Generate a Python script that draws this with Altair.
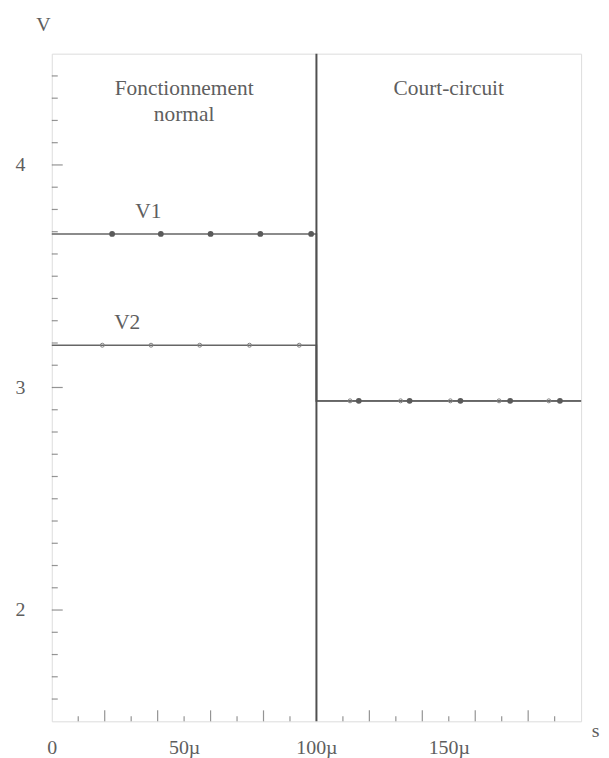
import altair as alt
import pandas as pd

# ---- data ----
x_break = 100          # µs, onset of short-circuit
x_end = 200
v1_normal = 3.69
v2_normal = 3.19
v_short = 2.94

v1_marker_x = [22.8, 41.2, 60.0, 78.8, 98.0, 116.0, 135.2, 154.4, 173.2, 192.0]
v2_marker_x = [19.1, 37.5, 55.9, 74.7, 93.5, 112.7, 131.8, 150.6, 169.0, 187.8]

x_label_values = [0, 50, 100, 150]
y_label_values = [2, 3, 4]
x_minor_ticks = [10, 30, 50, 70, 90, 110, 130, 150, 170, 190]
x_major_ticks = [20, 40, 60, 80, 120, 140, 160, 180]
y_minor_ticks = [round(1.6 + 0.1 * i, 1) for i in range(29) if round(1.6 + 0.1 * i, 1) not in (2.0, 3.0, 4.0)]
y_major_ticks = [2, 3, 4]

ann_text = ["Fonctionnement", "normal", "Court-circuit", "V1", "V2"]
ann_x = [50, 50, 150, 36.5, 28.5]
ann_y = [4.34, 4.225, 4.34, 3.79, 3.29]

# ---- tables ----
def level(t, xb, vn, vs):
    return vn if t < xb else vs

lines = pd.DataFrame({
    "series": ["V1"] * 4 + ["V2"] * 4,
    "order": [0, 1, 2, 3] * 2,
    "t": [0, x_break, x_break, x_end] * 2,
    "v": [v1_normal, v1_normal, v_short, v_short, v2_normal, v2_normal, v_short, v_short],
})
m1 = pd.DataFrame({"t": v1_marker_x, "v": [level(t, x_break, v1_normal, v_short) for t in v1_marker_x]})
m2 = pd.DataFrame({"t": v2_marker_x, "v": [level(t, x_break, v2_normal, v_short) for t in v2_marker_x]})
ann = pd.DataFrame({"text": ann_text, "t": ann_x, "v": ann_y})

FONT = "Liberation Serif"
GREY = "#5e5e5e"
LINE = "#666666"

xscale = alt.Scale(domain=[0, x_end], nice=False, zero=False)
yscale = alt.Scale(domain=[1.5, 4.5], nice=False, zero=False)

xaxis = alt.Axis(
    values=x_label_values,
    labelExpr="datum.value == 0 ? '0' : datum.value + 'µ'",
    ticks=False, tickSize=0, domain=False, grid=False,
    labelFont=FONT, labelFontSize=20, labelColor=GREY, labelPadding=16,
    labelFlush=False,
    title="s", titleFont=FONT, titleFontSize=20, titleFontWeight="normal",
    titleColor=GREY, titleX=546, titleY=9, titleAlign="center",
    titleBaseline="middle",
)
yaxis = alt.Axis(
    values=y_label_values, format="d",
    ticks=False, tickSize=0, domain=False, grid=False,
    labelFont=FONT, labelFontSize=20, labelColor=GREY, labelPadding=27,
    title="V", titleFont=FONT, titleFontSize=20, titleFontWeight="normal",
    titleColor=GREY, titleAngle=0, titleX=-9, titleY=-29,
    titleAlign="center", titleBaseline="middle",
)

base_lines = alt.Chart(lines).mark_line(color=LINE, strokeWidth=1.6).encode(
    x=alt.X("t:Q", scale=xscale, axis=xaxis),
    y=alt.Y("v:Q", scale=yscale, axis=yaxis),
    detail="series:N",
    order="order:Q",
)

divider = alt.Chart(pd.DataFrame({"t": [x_break]})).mark_rule(
    color="#505050", strokeWidth=2
).encode(x=alt.X("t:Q", scale=xscale))

pts1 = alt.Chart(m1).mark_point(
    shape="circle", filled=True, size=34, color="#5a5a5a", opacity=1
).encode(x=alt.X("t:Q", scale=xscale), y=alt.Y("v:Q", scale=yscale))

pts2 = alt.Chart(m2).mark_point(
    shape="circle", filled=False, size=16, color="#808080", strokeWidth=1, opacity=1
).encode(x=alt.X("t:Q", scale=xscale), y=alt.Y("v:Q", scale=yscale))

def xticks(vals, size):
    return alt.Chart(pd.DataFrame({"t": vals})).mark_tick(
        orient="vertical", size=size, thickness=1.2, color=LINE, yOffset=-size / 2
    ).encode(x=alt.X("t:Q", scale=xscale), y=alt.datum(1.5, scale=yscale))

def yticks(vals, size):
    return alt.Chart(pd.DataFrame({"v": vals})).mark_tick(
        orient="horizontal", size=size, thickness=1.2, color=LINE, xOffset=size / 2
    ).encode(y=alt.Y("v:Q", scale=yscale), x=alt.datum(0, scale=xscale))

texts = alt.Chart(ann).mark_text(
    font=FONT, fontSize=21.5, color=GREY, align="center", baseline="middle"
).encode(x=alt.X("t:Q", scale=xscale), y=alt.Y("v:Q", scale=yscale), text="text:N")

chart = alt.layer(
    base_lines, divider, pts2, pts1,
    xticks(x_minor_ticks, 5), xticks(x_major_ticks, 11),
    yticks(y_minor_ticks, 6), yticks(y_major_ticks, 11),
    texts,
).properties(
    width=532, height=671,
    autosize=alt.AutoSizeParams(type="none"),
    padding={"left": 44, "top": 44, "right": 20, "bottom": 40},
).configure_view(
    stroke="#5a5a5a", strokeWidth=1.6
).configure(background="white")

chart.save("out.html", embed_options={"renderer": "svg", "actions": False})
